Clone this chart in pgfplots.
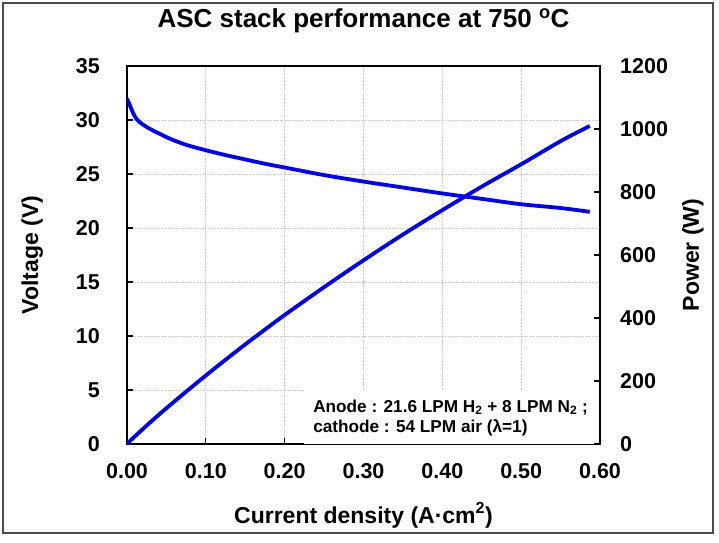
\documentclass[border=0pt]{standalone}
\usepackage{fontspec}
\setmainfont{Liberation Sans}
\usepackage{pgfplots}
\pgfplotsset{compat=1.18}
\usepackage{pgfplotstable}
\pgfplotsset{
  layers/gridbelow/.define layer set={axis background,axis grid,main,axis ticks,axis lines,axis tick labels,axis descriptions,axis foreground}{},
}

\pgfplotstableread{
I V
0.000 32.0
0.004 31.3
0.008 30.6
0.012 30.1
0.016 29.8
0.025 29.35
0.035 28.95
0.045 28.6
0.055 28.25
0.075 27.7
0.100 27.2
0.125 26.75
0.150 26.35
0.175 25.95
0.200 25.6
0.250 24.9
0.300 24.3
0.350 23.75
0.400 23.2
0.450 22.7
0.500 22.2
0.550 21.85
0.587 21.5
}\voltdata

\pgfplotstableread{
I P
0.000 0
0.004 10.02
0.008 19.58
0.012 28.90
0.016 38.14
0.025 58.7
0.035 81.06
0.045 102.96
0.055 124.3
0.075 166.2
0.100 217.6
0.125 267.5
0.150 316.2
0.175 363.3
0.200 409.6
0.250 498.0
0.300 583.2
0.350 665.0
0.400 742.4
0.450 817.2
0.500 888.0
0.550 961.4
0.587 1009.6
}\powdata

\newcommand{\tickfont}{\fontsize{21.5}{21.5}\selectfont\bfseries}
\newcommand{\labfont}{\fontsize{23}{23}\selectfont\bfseries}

\begin{document}
\begin{tikzpicture}
\begin{axis}[
  set layers=gridbelow,
  at={(127pt,98pt)}, anchor=south west,
  scale only axis, width=473pt, height=378pt,
  xmin=0, xmax=0.6, ymin=0, ymax=35,
  xtick={0,0.1,0.2,0.3,0.4,0.5,0.6},
  ytick={0,5,10,15,20,25,30,35},
  xtick pos=bottom, ytick pos=left,
  tick align=inside, major tick length=6pt,
  tick style={black, line width=1.2pt},
  axis line style={black, line width=2.2pt},
  grid=major,
  grid style={gray!35, densely dotted, line width=0.9pt},
  /pgf/number format/assume math mode=true,
  xticklabel style={/pgf/number format/fixed, /pgf/number format/fixed zerofill, /pgf/number format/precision=2},
  xticklabel style={anchor=north, inner sep=0pt, yshift=-19pt, font=\tickfont},
  yticklabel style={anchor=east, inner sep=0pt, xshift=-27pt, font=\tickfont},
  title={ASC stack performance at 750 \textsuperscript{o}C},
  title style={at={(axis description cs:0.5,1.087)}, anchor=base, font=\fontsize{26}{26}\selectfont\bfseries},
  xlabel={Current density (A·cm\textsuperscript{2})},
  xlabel style={at={(axis description cs:0.5,-0.209)}, anchor=base, font=\labfont},
  ylabel={Voltage (V)},
  ylabel style={at={(axis description cs:-0.188,0.5)}, anchor=base, font=\labfont},
]
\fill[white] (axis cs:0.225,0) rectangle (axis cs:0.6,5);
\addplot[blue, line width=3.8pt, line join=round, smooth] table[x=I, y=V] {\voltdata};
\node[anchor=base west, inner sep=0pt, font=\fontsize{17.2}{20}\selectfont\bfseries] at (axis cs:0.236,2.96) {Anode : 21.6 LPM H\textsubscript{2} + 8 LPM N\textsubscript{2} ;};
\node[anchor=base west, inner sep=0pt, font=\fontsize{17.2}{20}\selectfont\bfseries] at (axis cs:0.236,1.02) {cathode : 54 LPM air (λ=1)};
\end{axis}
\begin{axis}[
  set layers=gridbelow,
  at={(127pt,98pt)}, anchor=south west,
  scale only axis, width=473pt, height=378pt,
  xmin=0, xmax=0.6, ymin=0, ymax=1200,
  axis y line*=right, axis x line=none,
  ytick={0,200,400,600,800,1000,1200},
  tick align=inside, major tick length=6pt,
  tick style={black, line width=1.2pt},
  axis line style={black, line width=2.2pt},
  /pgf/number format/assume math mode=true,
  /pgf/number format/1000 sep={},
  yticklabel style={anchor=west, inner sep=0pt, xshift=20pt, font=\tickfont},
  ylabel={Power (W)},
  ylabel style={at={(axis description cs:1.209,0.5)}, anchor=base, font=\labfont},
]
\addplot[blue, line width=3.8pt, line join=round, smooth] table[x=I, y=P] {\powdata};
\end{axis}
\draw[black!70, line width=1.5pt] (3pt,9pt) rectangle (713pt,539pt);
\path (0,0) rectangle (719pt,542pt);
\end{tikzpicture}
\end{document}
